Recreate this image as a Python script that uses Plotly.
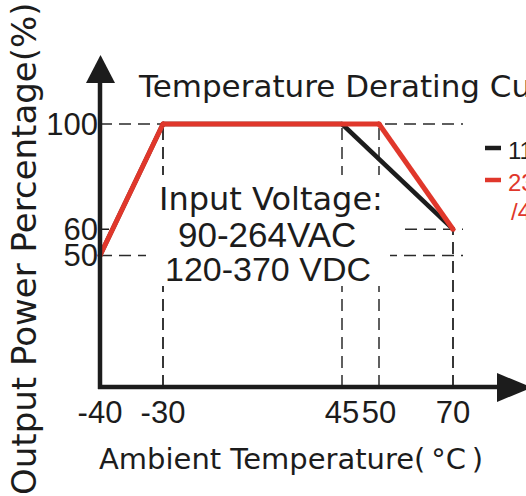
import plotly.graph_objects as go

# ---------------- data ----------------
temps_black = [-40, -30, 45, 70]          # ambient temperature (°C)
power_black = [50, 100, 100, 60]          # output power (%)
temps_red = [-40, -30, 50, 70]
power_red = [50, 100, 100, 60]
x_tick_vals = [-40, -30, 45, 50, 70]
y_tick_vals = [50, 60, 100]
series_names = ["115VAC Input", "230VAC Input"]
series_extra = ["", "/400VDC Input"]

# ---------------- layout constants ----------------
W, H = 526, 496
# the reference is a schematic: the x ticks are not evenly scaled, so the
# x scale is a broken axis made of linear segments (one plotly axis each)
X_TICK_PX = [100, 163, 342, 379, 453]     # screen position of each x tick
Y0_PX, Y100_PX = 387, 124                 # screen position of 0 % and 100 %
BLACK = "#1c1c1c"
RED = "#e0372b"
DASH_C = "#2a2a2a"
NUM_FONT = "Liberation Sans"
TXT_FONT = "DejaVu Sans"


def fx(px):
    return px / W


def fy(py):
    return 1 - py / H


tick_px = dict(zip(x_tick_vals, X_TICK_PX))
sy = (Y0_PX - Y100_PX) / 100.0
PAD = 8  # px padding around each segment axis so lines are not clipped

layout_axes = {}
segments = {}   # (a, b) -> axis index


def seg_axis(a, b):
    if (a, b) in segments:
        return segments[(a, b)]
    idx = len(segments) + 1
    segments[(a, b)] = idx
    pa, pb = tick_px[a], tick_px[b]
    s = (pb - pa) / (b - a)
    name = "xaxis" if idx == 1 else f"xaxis{idx}"
    layout_axes[name] = dict(
        range=[a - PAD / s, b + PAD / s],
        domain=[fx(pa - PAD), fx(pb + PAD)],
        anchor="free", position=fy(Y0_PX),
        showgrid=False, zeroline=False, showline=False, ticks="",
        tickmode="array", tickvals=[], ticktext=[],
        tickfont=dict(family=NUM_FONT, size=31, color=BLACK),
        ticklabelstandoff=4,
        fixedrange=True,
    )
    return idx


fig = go.Figure()

series = [
    (temps_black, power_black, BLACK, 4.5, series_names[0]),
    (temps_red, power_red, RED, 5, series_names[1]),
]
for xs, ys, col, lw, nm in series:
    for i in range(len(xs) - 1):
        idx = seg_axis(xs[i], xs[i + 1])
        fig.add_trace(go.Scatter(
            x=xs[i:i + 2], y=ys[i:i + 2],
            xaxis="x" if idx == 1 else f"x{idx}", yaxis="y",
            mode="lines+markers",
            line=dict(color=col, width=lw),
            marker=dict(color=col, size=lw),
            name=nm, showlegend=False, hoverinfo="skip",
        ))

# x tick labels: each tick goes on the first segment axis that ends on it
used = set()
for (a, b), idx in segments.items():
    name = "xaxis" if idx == 1 else f"xaxis{idx}"
    for v in (a, b):
        if v in x_tick_vals and v not in used:
            used.add(v)
            layout_axes[name]["tickvals"].append(v)
            layout_axes[name]["ticktext"].append(str(v))

fig.update_layout(**layout_axes)
fig.update_layout(
    yaxis=dict(
        range=[-4, 106],
        domain=[fy(Y0_PX + 4 * sy), fy(Y100_PX - 6 * sy)],
        anchor="free", position=fx(tick_px[-40]),
        showgrid=False, zeroline=False, showline=False, ticks="",
        tickmode="array", tickvals=y_tick_vals,
        ticktext=[str(v) for v in y_tick_vals],
        tickfont=dict(family=NUM_FONT, size=31, color=BLACK),
        ticklabelstandoff=2,
        fixedrange=True,
    ),
)

shapes = []
dash = dict(color=DASH_C, width=1.5, dash="12px,7px")
x_left = tick_px[-40]
x_right = tick_px[70] + 10
# horizontal dashed guides at 100 % and 50 %
for v in (power_black[1], power_black[0]):
    shapes.append(dict(type="line", layer="below", xref="paper", yref="y",
                       x0=fx(x_left), x1=fx(x_right), y0=v, y1=v, line=dash))
# short guide at the end value (60 %)
shapes.append(dict(type="line", layer="below", xref="paper", yref="y",
                   x0=fx(tick_px[70] - 48), x1=fx(x_right),
                   y0=power_red[-1], y1=power_red[-1], line=dash))
# vertical dashed guides down from each break point
for xs, ys in ((temps_black, power_black), (temps_red, power_red)):
    for xv, yv in zip(xs[1:], ys[1:]):
        shapes.append(dict(type="line", layer="below", xref="paper", yref="y",
                           x0=fx(tick_px[xv]), x1=fx(tick_px[xv]),
                           y0=0, y1=yv, line=dash))
# small solid tick at 60 %
shapes.append(dict(type="line", layer="above", xref="paper", yref="y",
                   x0=fx(x_left), x1=fx(x_left + 9), y0=60, y1=60,
                   line=dict(color=BLACK, width=1.5)))
# white panel behind the input-voltage text
shapes.append(dict(type="rect", layer="above", xref="paper", yref="paper",
                   x0=fx(146), x1=fx(390), y0=fy(286), y1=fy(175),
                   fillcolor="white", line=dict(width=0)))
# axis lines with arrow heads
AX_W = 4.5
shapes.append(dict(type="line", layer="above", xref="paper", yref="paper",
                   x0=fx(100), x1=fx(100), y0=fy(389), y1=fy(80),
                   line=dict(color=BLACK, width=AX_W)))
shapes.append(dict(type="line", layer="above", xref="paper", yref="paper",
                   x0=fx(98), x1=fx(500), y0=fy(387), y1=fy(387),
                   line=dict(color=BLACK, width=AX_W)))


def tri(pts):
    return "M " + " L ".join(f"{fx(a):.5f},{fy(b):.5f}" for a, b in pts) + " Z"


shapes.append(dict(type="path", layer="above", xref="paper", yref="paper",
                   path=tri([(86, 83), (115, 83), (100.5, 55)]),
                   fillcolor=BLACK, line=dict(width=0)))
shapes.append(dict(type="path", layer="above", xref="paper", yref="paper",
                   path=tri([(497, 373), (497, 402), (532, 387.5)]),
                   fillcolor=BLACK, line=dict(width=0)))
# legend keys
shapes.append(dict(type="line", layer="above", xref="paper", yref="paper",
                   x0=fx(485), x1=fx(501), y0=fy(148), y1=fy(148),
                   line=dict(color=BLACK, width=4.5)))
shapes.append(dict(type="line", layer="above", xref="paper", yref="paper",
                   x0=fx(485), x1=fx(501), y0=fy(180), y1=fy(180),
                   line=dict(color=RED, width=4.5)))

ann = []


def text(t, x, y, size, font=TXT_FONT, color=BLACK, xanchor="center",
         angle=0):
    ann.append(dict(text=t, x=fx(x), y=fy(y), xref="paper", yref="paper",
                    xanchor=xanchor, yanchor="middle", showarrow=False,
                    textangle=angle,
                    font=dict(family=font, size=size, color=color)))


text("Temperature Derating Curve", 136, 86, 31, xanchor="left")
text("Input Voltage:", 271, 199, 32)
text("90-264VAC", 267, 234, 35, font=NUM_FONT)
text("120-370 VDC", 268, 269, 34, font=NUM_FONT)
text("Ambient Temperature(\u2009°C\u2009)", 97, 459, 29, xanchor="left")
text("Output Power Percentage(%)", 24, 249, 34, angle=-90)
text(series_names[0], 506, 150, 24, font=NUM_FONT, xanchor="left")
text(series_names[1], 506, 182, 24, font=NUM_FONT, color=RED, xanchor="left")
text(series_extra[1], 509, 211, 24, font=NUM_FONT, color=RED, xanchor="left")

fig.update_layout(
    width=W, height=H,
    margin=dict(l=0, r=0, t=0, b=0, autoexpand=False),
    paper_bgcolor="white", plot_bgcolor="rgba(0,0,0,0)",
    shapes=shapes, annotations=ann, showlegend=False,
)

fig.write_html("out.html", config={"displayModeBar": False},
               post_script="document.body.style.margin='0';")
